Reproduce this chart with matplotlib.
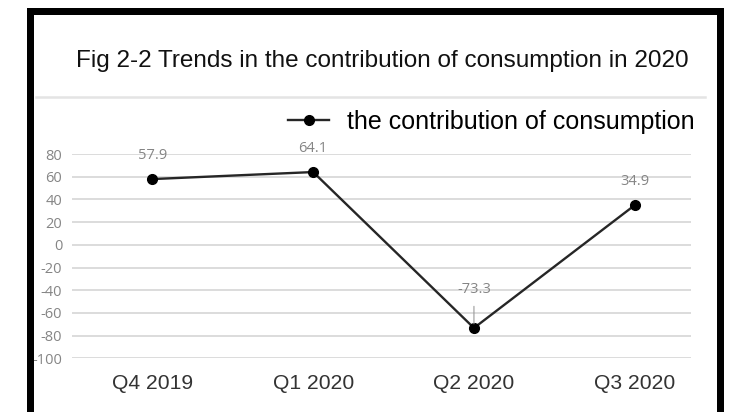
import matplotlib
matplotlib.use("Agg")
from matplotlib import pyplot as plt
from matplotlib.patches import Rectangle
from matplotlib.lines import Line2D

# data
quarters = ["Q4 2019", "Q1 2020", "Q2 2020", "Q3 2020"]
contribution = [57.9, 64.1, -73.3, 34.9]
y_ticks = [80, 60, 40, 20, 0, -20, -40, -60, -80, -100]

title = "Fig 2-2 Trends in the contribution of consumption in 2020"
series_name = "the contribution of consumption"

W, H = 729, 412
fig = plt.figure(figsize=(W / 100, H / 100), dpi=100)
fig.patch.set_facecolor("white")


def fx(px):
    return px / W


def fy(py):
    return 1 - py / H


ax = fig.add_axes([fx(72), fy(358.3), fx(691) - fx(72), fy(154) - fy(358.3)])
ax.set_facecolor("white")

x = list(range(len(quarters)))
line, = ax.plot(x, contribution, color="#262626", lw=1.7, marker="o",
                markersize=7, markerfacecolor="black", markeredgecolor="black",
                zorder=3, clip_on=False, label=series_name)

label_style = dict(ha="center", va="center", fontsize=10.5, color="#858585",
                   family="Open Sans")

# data labels
for xi, v in zip(x, contribution):
    if v < -50:
        ax.annotate(f"{v}", xy=(xi, v), xytext=(0, 28), textcoords="offset points",
                    arrowprops=dict(arrowstyle="-", color="#9a9a9a", lw=0.8,
                                    shrinkA=5, shrinkB=3),
                    **label_style)
    else:
        ax.annotate(f"{v}", xy=(xi, v), xytext=(0, 17), textcoords="offset points",
                    **label_style)

ax.set_xlim(-0.5, 3.35)
ax.set_ylim(-100, 80)
ax.set_yticks(y_ticks)
ax.set_yticklabels([str(t) for t in y_ticks], fontsize=10.5, color="#858585",
                   family="Open Sans")
ax.set_xticks(x)
ax.set_xticklabels(quarters, fontsize=15.2, color="#333333", family="Liberation Sans")
ax.tick_params(axis="y", length=0, pad=7)
ax.tick_params(axis="x", length=0, pad=11.5)
ax.grid(axis="y", color="#dcdcdc", lw=1.4)
ax.set_axisbelow(True)
for s in ax.spines.values():
    s.set_visible(False)

leg = fig.legend(handles=[line], loc="center left",
                 bbox_to_anchor=(fx(288), fy(122)), frameon=False,
                 prop={"family": "Liberation Sans", "size": 18},
                 handlelength=1.64, handletextpad=0.72, borderpad=0,
                 borderaxespad=0)
for h in leg.legend_handles:
    h.set_markersize(7)

fig.text(fx(382), fy(61), title, ha="center", va="center", fontsize=17.5,
         family="Liberation Sans", color="#111111")

# faint band under the title
fig.add_artist(Line2D([fx(36), fx(705)], [fy(97), fy(97)], color="#e4e4e4", lw=1.8))

# black frame
fig.add_artist(Rectangle((fx(27), 0), fx(7), fy(8), color="black", lw=0))
fig.add_artist(Rectangle((fx(27), fy(15)), fx(724) - fx(27), fy(8) - fy(15),
                         color="black", lw=0))
fig.add_artist(Rectangle((fx(717), 0), fx(7), fy(8), color="black", lw=0))

fig.savefig("out.png", dpi=100)
